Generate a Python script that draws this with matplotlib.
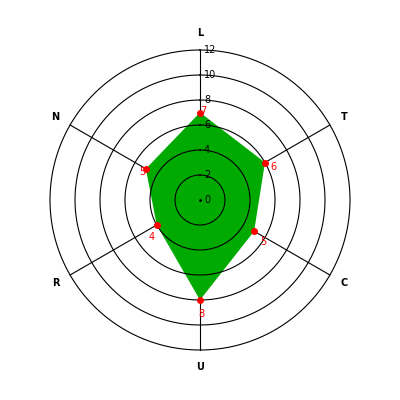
import numpy as np
import matplotlib
matplotlib.use("Agg")
import matplotlib.pyplot as plt

# data
categories = ["L", "T", "C", "U", "R", "N"]
values = [7, 6, 5, 8, 4, 5]
rings = [2, 4, 6, 8, 10, 12]
ring_labels = ["0", "2", "4", "6", "8", "10", "12"]

# pixel offsets of the red value labels from their points
value_offsets = [(3, 1), (8, -4), (9, -11), (1, -14), (-5, -12), (-4, -3)]

GREEN = "#00AA00"
RED = "#FF0000"

fig = plt.figure(figsize=(4, 4), dpi=100)
ax = fig.add_axes([0.125, 0.125, 0.75, 0.75], projection="polar")
ax.set_theta_zero_location("N")
ax.set_theta_direction(-1)
ax.set_ylim(0, 12)
ax.set_axis_off()

n = len(categories)
angles = np.arange(n) * 2 * np.pi / n

# spokes (under the fill)
for a in angles:
    ax.plot([a, a], [0, rings[-1]], color="black", lw=0.8, zorder=1,
            clip_on=False)

# filled polygon
th = np.append(angles, angles[0])
vv = np.append(values, values[0])
ax.fill(th, vv, color=GREEN, lw=0, zorder=2)

# rings (over the fill)
circ = np.linspace(0, 2 * np.pi, 400)
for r in rings:
    ax.plot(circ, np.full_like(circ, r), color="black", lw=0.8, zorder=3,
            clip_on=False)

# ring labels along the top spoke
for r, lab in zip([0] + rings, ring_labels):
    ax.annotate(lab, (0, r), xytext=(4, 0), textcoords="offset pixels",
                ha="left", va="center", fontsize=7, color="black", zorder=5)
ax.plot([0], [0], "k.", ms=2, zorder=5)

# points and value labels
ax.plot(angles, values, "o", color=RED, ms=4, zorder=4)
for a, v, off in zip(angles, values, value_offsets):
    ax.annotate(str(v), (a, v), xytext=off, textcoords="offset pixels",
                ha="center", va="center", fontsize=7, color=RED, zorder=5)

# category labels
for a, c in zip(angles, categories):
    ax.text(a, 13.35, c, ha="center", va="center", fontsize=7,
            fontweight="bold", color="black")

fig.savefig("out.png", dpi=100)
